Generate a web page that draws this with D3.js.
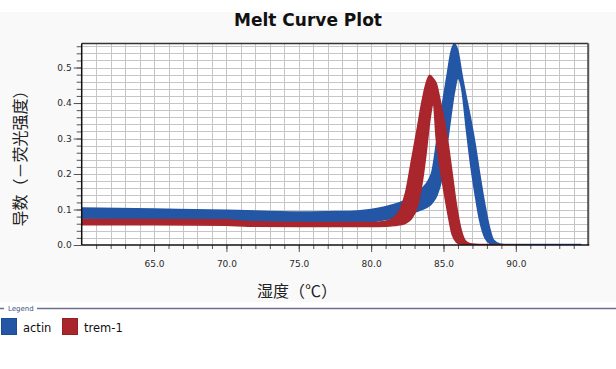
<!DOCTYPE html>
<html>
<head>
<meta charset="utf-8">
<script src="https://cdn.jsdelivr.net/npm/d3@7"></script>
<style>
  body { margin: 0; background: #fff; }
  svg { display: block; }
</style>
</head>
<body>
<div id="container"></div>
<script>
// values
let genes = ["actin", "trem-1"]
let colors = ["#2456a6", "#a8262c"]

// actin: band of replicate curves, lower / upper envelope
let actinTemp = [60, 65, 70, 75, 78, 80, 81, 82, 82.8, 83.5, 84.0, 84.2, 84.55, 84.9, 85.27, 85.5, 85.75, 86.0, 86.26, 86.6, 86.9, 87.2, 87.5, 87.87, 88.2, 88.45, 88.9, 89.5, 94.5]
let actinHi   = [0.104, 0.101, 0.098, 0.093, 0.094, 0.100, 0.108, 0.120, 0.135, 0.158, 0.185, 0.205, 0.296, 0.390, 0.483, 0.540, 0.566, 0.545, 0.483, 0.410, 0.350, 0.280, 0.200, 0.110, 0.045, 0.014, 0.003, 0.001, 0.001]
let actinLo   = [0.074, 0.072, 0.068, 0.064, 0.063, 0.066, 0.072, 0.082, 0.090, 0.100, 0.110, 0.118, 0.140, 0.190, 0.290, 0.360, 0.430, 0.470, 0.440, 0.320, 0.220, 0.140, 0.070, 0.020, 0.005, 0.002, 0.000, 0.000, 0.000]

// trem-1
let tremTemp = [60, 65, 70, 71.5, 75, 80, 81, 81.6, 82.0, 82.4, 82.8, 83.2, 83.5, 83.8, 84.05, 84.3, 84.5, 84.8, 85.0, 85.3, 85.6, 85.9, 86.2, 86.5, 86.8, 87.2, 88, 90.5]
let tremHi   = [0.072, 0.072, 0.071, 0.066, 0.063, 0.063, 0.067, 0.078, 0.100, 0.150, 0.240, 0.330, 0.400, 0.455, 0.478, 0.468, 0.455, 0.400, 0.360, 0.290, 0.200, 0.110, 0.045, 0.012, 0.004, 0.002, 0.001, 0.000]
let tremLo   = [0.057, 0.057, 0.056, 0.053, 0.052, 0.052, 0.053, 0.055, 0.057, 0.062, 0.075, 0.110, 0.170, 0.260, 0.350, 0.400, 0.300, 0.210, 0.160, 0.090, 0.030, 0.008, 0.002, 0.000, 0.000, 0.000, 0.000, 0.000]

let xMajor = [65, 70, 75, 80, 85, 90]
let xMinor = d3.range(61, 95)
let yMajor = [0, 0.1, 0.2, 0.3, 0.4, 0.5]
let yMinor = d3.range(0.02, 0.57, 0.02)

let W = 616, H = 369
let pLeft = 81.7, pRight = 588.2, pTop = 43.4, pBottom = 245

let svg = d3.select("#container").append("svg")
    .attr("width", W)
    .attr("height", H)

svg.append("rect")
    .attr("x", 0).attr("y", 12)
    .attr("width", W).attr("height", 290)
    .attr("fill", "#f9f9f9")

let x = d3.scaleLinear().domain([60, 95]).range([pLeft, pRight])
let y = d3.scaleLinear().domain([0, 0.568]).range([pBottom, pTop])

// plot background
svg.append("rect")
    .attr("x", pLeft).attr("y", pTop)
    .attr("width", pRight - pLeft).attr("height", pBottom - pTop)
    .attr("fill", "#fff")

// grid
let grid = svg.append("g").attr("stroke", "#c6c6c6").attr("stroke-width", 1)
xMinor.forEach(t => {
    grid.append("line")
        .attr("x1", Math.round(x(t)) + 0.5).attr("x2", Math.round(x(t)) + 0.5)
        .attr("y1", pTop).attr("y2", pBottom)
})
yMinor.forEach(v => {
    grid.append("line")
        .attr("x1", pLeft).attr("x2", pRight)
        .attr("y1", Math.round(y(v)) + 0.5).attr("y2", Math.round(y(v)) + 0.5)
})

svg.append("clipPath").attr("id", "plot")
    .append("rect")
    .attr("x", pLeft).attr("y", pTop)
    .attr("width", pRight - pLeft).attr("height", pBottom - pTop)

let area = d3.area()
    .x(d => x(d.t))
    .y0(d => y(d.lo))
    .y1(d => y(d.hi))
    .curve(d3.curveMonotoneX)

let series = [
    actinTemp.map((t, i) => ({ t: t, lo: actinLo[i], hi: actinHi[i] })),
    tremTemp.map((t, i) => ({ t: t, lo: tremLo[i], hi: tremHi[i] }))
]

let bands = svg.append("g").attr("clip-path", "url(#plot)")
series.forEach((data, i) => {
    bands.append("path")
        .datum(data)
        .attr("d", area)
        .attr("fill", colors[i])
        .attr("stroke", colors[i])
        .attr("stroke-width", 1.6)
        .attr("stroke-linejoin", "round")
})

// axes
let xAxisMinor = d3.axisBottom(x).tickValues(xMinor).tickSize(4).tickFormat("")
let xAxisMajor = d3.axisBottom(x).tickValues(xMajor).tickSize(7).tickPadding(9).tickFormat(d3.format(".1f"))
let yAxisMinor = d3.axisLeft(y).tickValues(yMinor).tickSize(5).tickFormat("")
let yAxisMajor = d3.axisLeft(y).tickValues(yMajor).tickSize(8).tickPadding(2).tickFormat(d3.format(".1f"))

function styleAxis(g) {
    g.select(".domain").remove()
    g.selectAll("line").attr("stroke", "#555")
    g.selectAll("text")
        .attr("font-family", "DejaVu Sans")
        .attr("font-size", 9)
        .attr("fill", "#2a2a2a")
}

svg.append("g").attr("transform", `translate(0,${pBottom})`).call(xAxisMinor).call(styleAxis)
svg.append("g").attr("transform", `translate(0,${pBottom})`).call(xAxisMajor).call(styleAxis)
svg.append("g").attr("transform", `translate(${pLeft},0)`).call(yAxisMinor).call(styleAxis)
svg.append("g").attr("transform", `translate(${pLeft},0)`).call(yAxisMajor).call(styleAxis)

// frame
svg.append("line")
    .attr("x1", pLeft).attr("x2", pRight).attr("y1", pTop).attr("y2", pTop)
    .attr("stroke", "#333").attr("stroke-width", 1.5)
svg.append("line")
    .attr("x1", pRight).attr("x2", pRight).attr("y1", pTop).attr("y2", pBottom)
    .attr("stroke", "#555").attr("stroke-width", 2)
svg.append("line")
    .attr("x1", pLeft).attr("x2", pLeft).attr("y1", pTop).attr("y2", pBottom)
    .attr("stroke", "#111").attr("stroke-width", 1.5)
svg.append("line")
    .attr("x1", pLeft).attr("x2", pRight + 1).attr("y1", pBottom).attr("y2", pBottom)
    .attr("stroke", "#111").attr("stroke-width", 1.5)

// titles
svg.append("text")
    .text("Melt Curve Plot")
    .attr("x", 308).attr("y", 26)
    .attr("text-anchor", "middle")
    .attr("font-family", "DejaVu Sans")
    .attr("font-weight", "bold")
    .attr("font-size", 17)
    .attr("fill", "#111")

svg.append("text")
    .text("湿度（℃）")
    .attr("x", 297).attr("y", 297)
    .attr("text-anchor", "middle")
    .attr("font-family", "Noto Sans CJK SC")
    .attr("font-size", 16)
    .attr("fill", "#222")

svg.append("text")
    .text("导数（－荧光强度）")
    .attr("transform", "translate(26,154.5) rotate(-90)")
    .attr("text-anchor", "middle")
    .attr("font-family", "Noto Sans CJK SC")
    .attr("font-size", 16)
    .attr("fill", "#222")

// legend
svg.append("line")
    .attr("x1", 0).attr("x2", 4).attr("y1", 308.5).attr("y2", 308.5)
    .attr("stroke", "#6e6e8a").attr("stroke-width", 1.5)
svg.append("line")
    .attr("x1", 37).attr("x2", W).attr("y1", 308.5).attr("y2", 308.5)
    .attr("stroke", "#6e6e8a").attr("stroke-width", 1.5)
svg.append("text")
    .text("Legend")
    .attr("x", 8).attr("y", 311)
    .attr("font-family", "DejaVu Sans")
    .attr("font-size", 7)
    .attr("fill", "#3d5582")

let legendX = [1, 62]
genes.forEach((name, i) => {
    svg.append("rect")
        .attr("x", legendX[i] + 0.5).attr("y", 318.5)
        .attr("width", 15).attr("height", 16)
        .attr("fill", colors[i])
        .attr("stroke", d3.color(colors[i]).darker(0.4))
    svg.append("text")
        .text(name)
        .attr("x", legendX[i] + 22).attr("y", 332)
        .attr("font-family", "DejaVu Sans")
        .attr("font-size", 11.5)
        .attr("fill", "#111")
})
</script>
</body>
</html>
